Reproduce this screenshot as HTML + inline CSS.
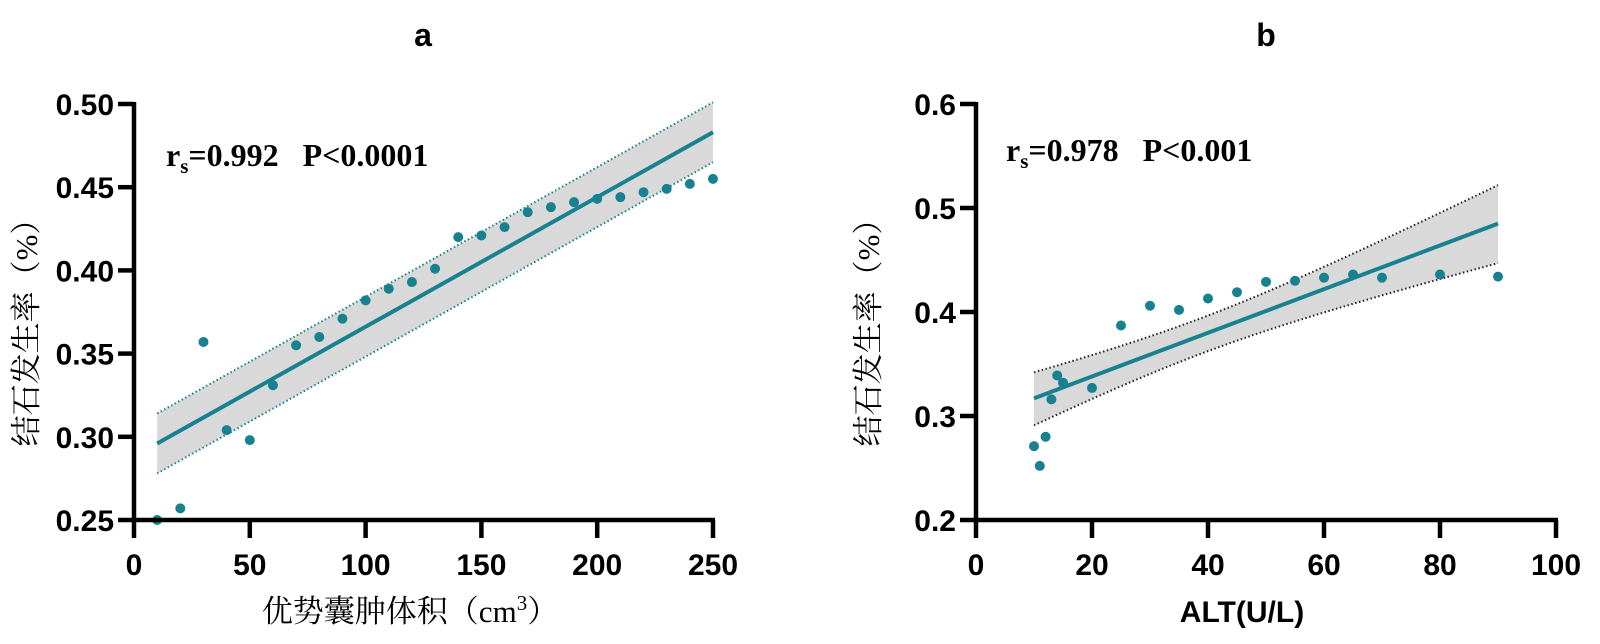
<!DOCTYPE html>
<html><head><meta charset="utf-8"><style>
html,body{margin:0;padding:0;background:#fff;}
svg{display:block;}
.tick{font-family:"Liberation Sans Narrow","Liberation Sans",sans-serif;font-weight:bold;font-size:30px;fill:#000;}
.title{font-family:"Liberation Sans",sans-serif;font-weight:bold;font-size:32px;}
.ytitle{font-family:"Liberation Serif","Noto Serif CJK SC",serif;font-size:31px;}
.stat{font-family:"Liberation Serif",serif;font-weight:bold;font-size:32px;}
</style></head><body>
<svg id="chart" width="1600" height="644" viewBox="0 0 1600 644">
<text class="title" x="423" y="46" text-anchor="middle">a</text>
<text class="title" x="1266" y="46" text-anchor="middle">b</text>
<text class="ytitle" transform="translate(37,325) rotate(-90)" text-anchor="middle">结石发生率（%）</text>
<text class="ytitle" transform="translate(879,325) rotate(-90)" text-anchor="middle">结石发生率（%）</text>
<text class="ytitle" x="410" y="622" text-anchor="middle">优势囊肿体积（cm<tspan dy="-12" font-size="21">3</tspan><tspan dy="12">）</tspan></text>
<text class="tick" x="1242" y="622" text-anchor="middle">ALT(U/L)</text>
<text class="stat" x="166" y="166" xml:space="preserve">r<tspan font-size="21" dy="7">s</tspan><tspan dy="-7">=0.992   P&lt;0.0001</tspan></text>
<text class="stat" x="1006" y="161" xml:space="preserve">r<tspan font-size="21" dy="7">s</tspan><tspan dy="-7">=0.978   P&lt;0.001</tspan></text>
</svg>
<script>
// Panel a data
const aX = [10,20,30,40,50,60,70,80,90,100,110,120,130,140,150,160,170,180,190,200,210,220,230,240,250];
const aY = [0.250,0.257,0.357,0.304,0.298,0.331,0.355,0.360,0.371,0.382,0.389,0.393,0.401,0.420,0.421,0.426,0.435,0.438,0.441,0.443,0.444,0.447,0.449,0.452,0.455];
const aFit = [0.296,0.483];
const aBandLo = [0.278,0.465];
const aBandHi = [0.314,0.501];
const aXTicks = [0,50,100,150,200,250];
const aYTicks = ["0.25","0.30","0.35","0.40","0.45","0.50"];
// Panel b data
const bX = [10,11,12,13,14,15,20,25,30,35,40,45,50,55,60,65,70,80,90];
const bY = [0.271,0.252,0.280,0.316,0.339,0.332,0.327,0.387,0.406,0.402,0.413,0.419,0.429,0.430,0.433,0.436,0.433,0.436,0.434];
const bFit = [0.317,0.485];
const bBandLo = [0.291,0.447];
const bBandHi = [0.342,0.522];
const bXTicks = [0,20,40,60,80,100];
const bYTicks = ["0.2","0.3","0.4","0.5","0.6"];

const NS="http://www.w3.org/2000/svg";
const svg=document.getElementById('chart');
const TEAL="#17818f";
function mk(tag,attrs,parent){const e=document.createElementNS(NS,tag);for(const k in attrs)e.setAttribute(k,attrs[k]);(parent||svg).appendChild(e);return e;}

function panel(p,xs,ys,fit,lo,hi,xt,yt,xmin,xmax,ymin,ymax,px0,px1,fitX0,fitX1){
  const py0=520, py1=104;
  const sx=v=>px0+(v-xmin)/(xmax-xmin)*(px1-px0);
  const sy=v=>py0-(v-ymin)/(ymax-ymin)*(py0-py1);
  const g=mk('g',{});
  
  
  const xm=xs.reduce((a,b)=>a+b,0)/xs.length;
  const h0=(hi[0]-lo[0])/2, h1=(hi[1]-lo[1])/2;
  const d0=fitX0-xm, d1=fitX1-xm;
  let c1=(h1*h1-h0*h0)/(d1*d1-d0*d0||1); let c0=h0*h0-c1*d0*d0;
  if(c0<0||c1<0){c1=Math.max(c1,0);c0=Math.max(Math.min(h0,h1)**2*0.3,0);}
  const fy=x=>fit[0]+(fit[1]-fit[0])*(x-fitX0)/(fitX1-fitX0);
  const cen0=(lo[0]+hi[0])/2-fit[0], cen1=(lo[1]+hi[1])/2-fit[1];
  const up=[],dn=[];
  for(let i=0;i<=40;i++){
    const x=fitX0+(fitX1-fitX0)*i/40;
    const t=i/40;
    let hw=Math.sqrt(Math.max(c0+c1*(x-xm)**2,0));
    if(i===0)hw=h0; if(i===40)hw=h1;
    const c=fy(x)+cen0+(cen1-cen0)*t;
    up.push([sx(x),sy(c+hw)]);dn.push([sx(x),sy(c-hw)]);
  }
  const band=mk('path',{d:'M'+up.map(q=>q.join(',')).join('L')+'L'+dn.slice().reverse().map(q=>q.join(',')).join('L')+'Z',fill:'#d9d9d9',stroke:'none'},g);
  
  
  const u=mk('path',{d:'M'+up.map(q=>q.join(',')).join('L'),fill:'none',stroke:p==='panel-a'?TEAL:'#222','stroke-width':2,'stroke-dasharray':'1.5,2.5'},g);
  
  
  const l=mk('path',{d:'M'+dn.map(q=>q.join(',')).join('L'),fill:'none',stroke:p==='panel-a'?TEAL:'#222','stroke-width':2,'stroke-dasharray':'1.5,2.5'},g);
  
  
  const fl=mk('line',{x1:sx(fitX0),y1:sy(fit[0]),x2:sx(fitX1),y2:sy(fit[1]),stroke:TEAL,'stroke-width':4},g);
  
  
  xs.forEach((x,i)=>{
    const c=mk('circle',{cx:sx(x),cy:sy(ys[i]),r:5,fill:TEAL},g);
    
    
  });
  const ax=mk('path',{d:`M${px0},${py1-2}V${py0}H${px1+2}`,fill:'none',stroke:'#000','stroke-width':4.5},g);
  
  
  xt.forEach(v=>{
    const x=sx(v);
    const t=mk('line',{x1:x,y1:py0,x2:x,y2:py0+18,stroke:'#000','stroke-width':4.5},g);
    
    
    const tx=mk('text',{x:x,y:575,'text-anchor':'middle',class:'tick'},g);
    tx.textContent=v;
    
    
  });
  yt.forEach(s=>{
    const y=sy(parseFloat(s));
    const t=mk('line',{x1:px0-16,y1:y,x2:px0,y2:y,stroke:'#000','stroke-width':4.5},g);
    
    
    const tx=mk('text',{x:px0-20,y:y+11,'text-anchor':'end',class:'tick'},g);
    tx.textContent=s;
    
    
  });
}
panel('panel-a',aX,aY,aFit,aBandLo,aBandHi,aXTicks,aYTicks,0,250,0.25,0.50,134,713,aX[0],aX[aX.length-1]);
panel('panel-b',bX,bY,bFit,bBandLo,bBandHi,bXTicks,bYTicks,0,100,0.2,0.6,976,1556,bX[0],bX[bX.length-1]);
</script>
</body></html>
